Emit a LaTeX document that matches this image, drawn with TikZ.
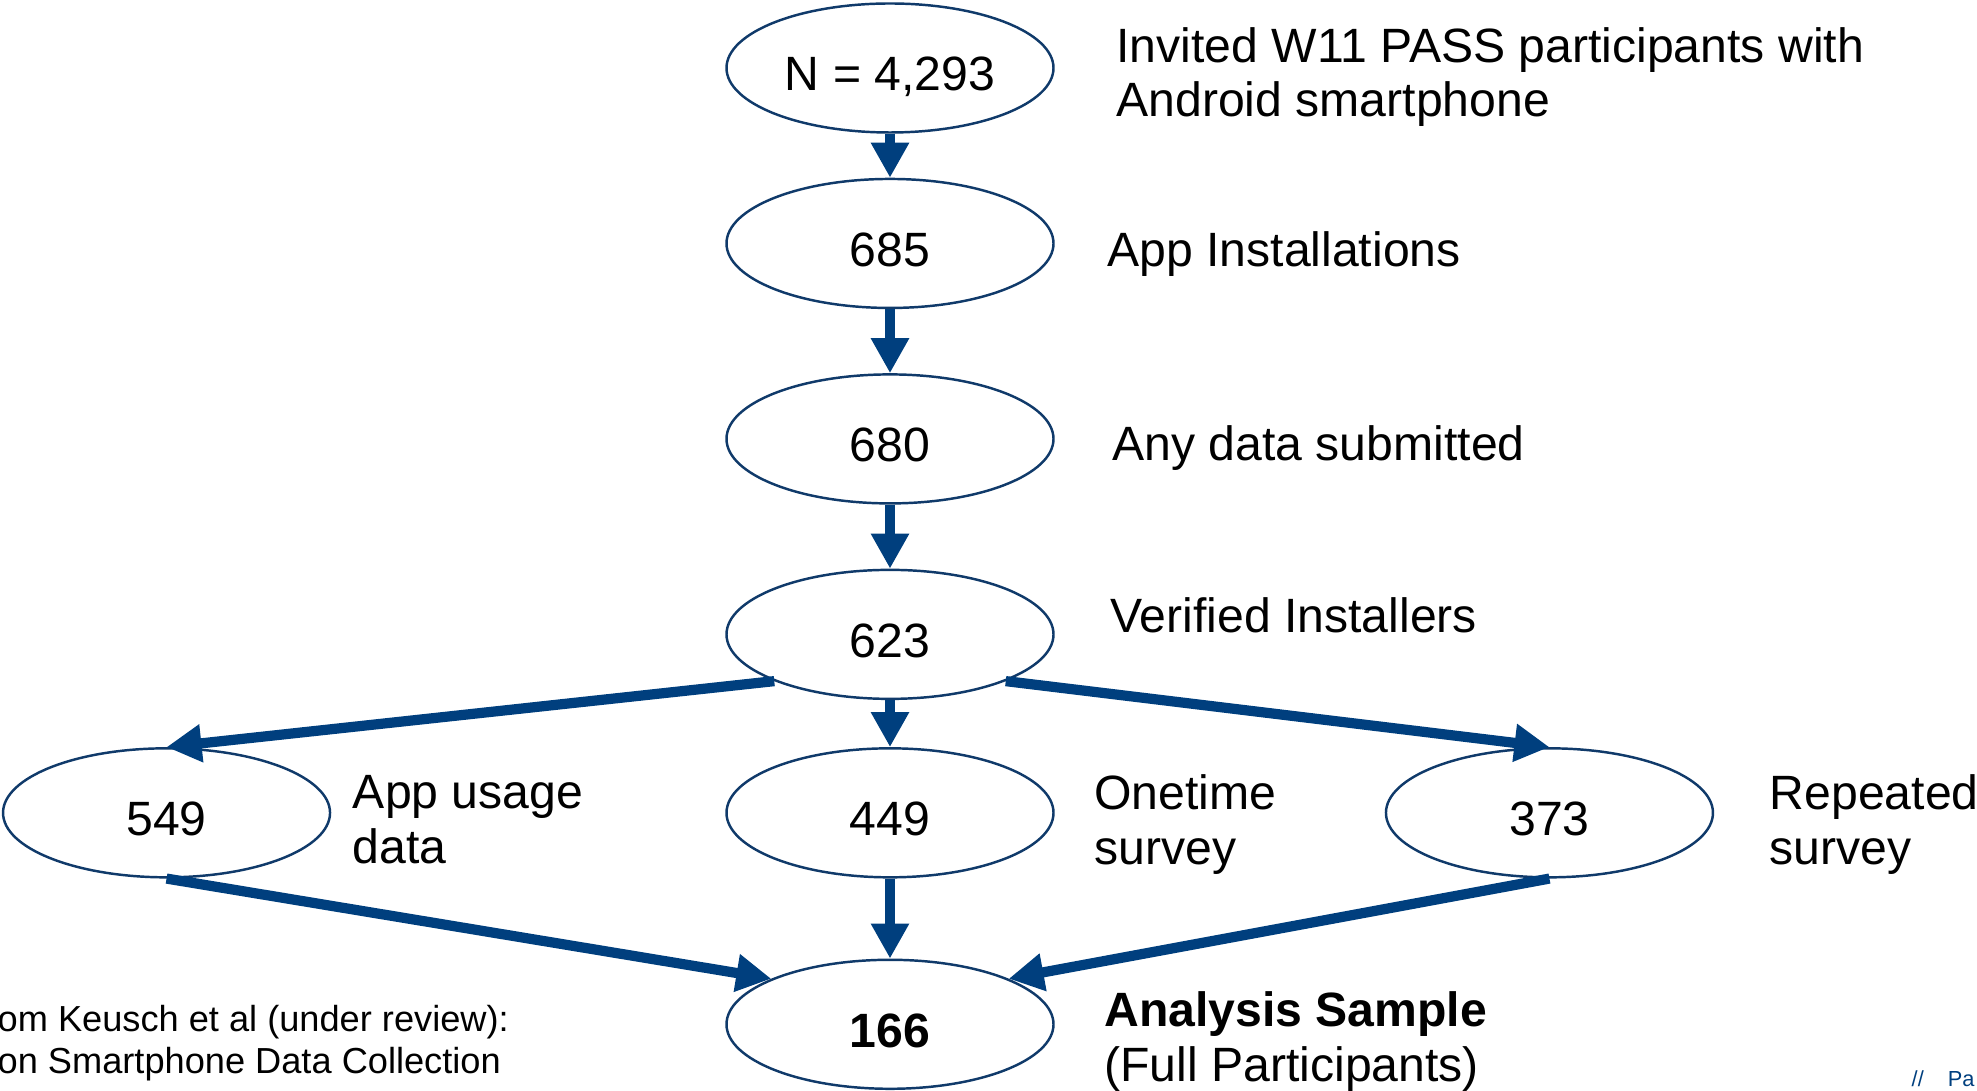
\documentclass[tikz,border=0pt]{standalone}
\usepackage{fontspec}
\setmainfont{Liberation Sans}
\usepackage{tikz}
\usetikzlibrary{shapes.geometric}
\usetikzlibrary{positioning,arrows.meta}
\definecolor{passblue}{RGB}{0,63,126}
\definecolor{passnavy}{RGB}{16,58,106}

\begin{document}
\begin{tikzpicture} [ >={Triangle[length=0.35cm,width=0.36cm]},
    every node/.style={inner sep=0pt, font=\fontsize{13.7}{15.6}\selectfont},
    count/.style={ellipse, draw=passnavy, line width=0.7pt,
      minimum width=3.27cm, minimum height=1.29cm,
      text height=0.46cm, text depth=0pt},
    lbl/.style={align=left},
    note/.style={align=left, font=\fontsize{10.3}{11.95}\selectfont},
    con/.style={->, line width=2.9pt, draw=passblue}
    ]
    \useasboundingbox (0,0) rectangle (19.77,10.91);
    \node (n1) [count] at (8.9,10.23) {N = 4,293};
    \node (n2) [count, below=0.44cm of n1] {685};
    \node (n3) [count, below=0.64cm of n2] {680};
    \node (n4) [count, below=0.64cm of n3] {623};
    \node (n5) [count, below=0.47cm of n4] {449};
    \node (n6) [count, left=3.94cm of n5] {549};
    \node (n7) [count, right=3.30cm of n5] {373};
    \node (n8) [count, below=0.80cm of n5] {\textbf{166}};

    \node (t1) [lbl, right=0.61cm of n1, yshift=-0.09cm]
      {Invited W11 PASS participants with\\Android smartphone};
    \node (t2) [lbl, right=0.52cm of n2, yshift=-0.11cm] {App Installations};
    \node (t3) [lbl, right=0.57cm of n3, yshift=-0.095cm] {Any data submitted};
    \node (t4) [lbl, right=0.55cm of n4, yshift=0.19cm] {Verified Installers};
    \node (t5) [lbl, right=0.39cm of n5, yshift=-0.12cm] {Onetime\\survey};
    \node (t6) [lbl, right=0.21cm of n6, yshift=-0.07cm] {App usage\\data};
    \node (t7) [lbl, right=0.55cm of n7, yshift=-0.12cm] {Repeated\\survey};
    \node (t8) [lbl, right=0.49cm of n8, yshift=-0.175cm]
      {\textbf{Analysis Sample}\\(Full Participants)};

    \node (src) [note, anchor=west] at (-0.03,0.48)
      {om Keusch et al (under review):\\on Smartphone Data Collection};
    \node (pg) [anchor=base west, text=passblue, font=\fontsize{6.2}{7}\selectfont]
      at (19.11,0.04) {//\hspace{1.1em}Pa};

     \draw   [con]  (n1) -- (n2);
     \draw   [con]  (n2) -- (n3);
     \draw   [con]  (n3) -- (n4);
     \draw   [con]  (n4) -- (n5);
     \draw   [con]  (n4.202) -- (n6.north);
     \draw   [con]  (n4.338) -- (n7.north);
     \draw   [con]  (n5) -- (n8);
     \draw   [con]  (n6.south) -- (n8.159);
     \draw   [con]  (n7.south) -- (n8.21);
  \end{tikzpicture}
\end{document}
